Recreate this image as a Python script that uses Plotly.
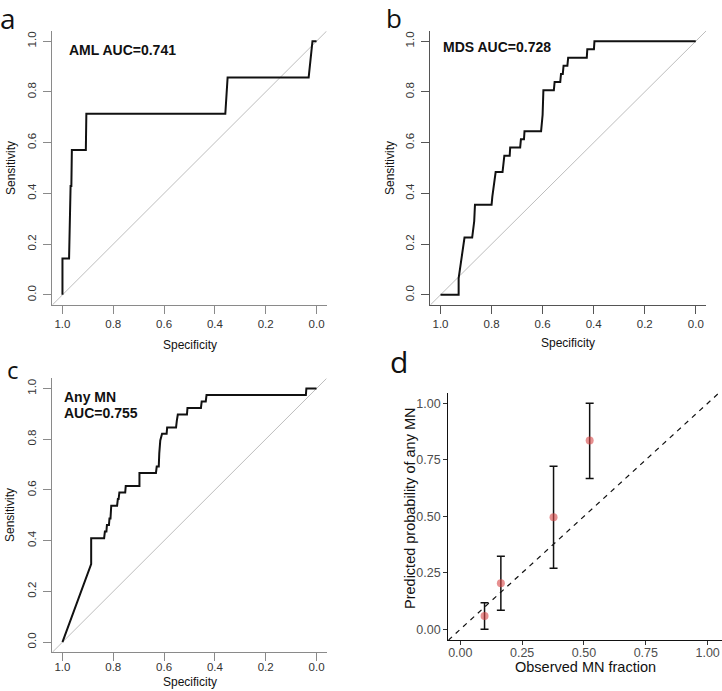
import plotly.graph_objects as go

W, H = 722, 691

# ---------------- data ----------------
# Panel a: AML ROC
aml_spec = [1.0, 1.0, 0.974, 0.972, 0.970, 0.968, 0.965, 0.963, 0.908, 0.906, 0.359, 0.350, 0.031, 0.016, 0.0]
aml_sens = [0.0, 0.143, 0.143, 0.286, 0.286, 0.429, 0.429, 0.571, 0.571, 0.714, 0.714, 0.857, 0.857, 1.0, 1.0]

# Panel b: MDS ROC
mds_spec = [1.0, 0.929, 0.929, 0.925, 0.921, 0.916, 0.910, 0.906, 0.876, 0.873, 0.868, 0.865,
            0.800, 0.797, 0.792, 0.788, 0.784, 0.757, 0.754, 0.750, 0.729, 0.727, 0.688, 0.685,
            0.673, 0.671, 0.606, 0.603, 0.600, 0.597, 0.556, 0.553, 0.531, 0.528, 0.521, 0.518,
            0.503, 0.500, 0.427, 0.425, 0.399, 0.397, 0.0]
mds_sens = [0.0, 0.0, 0.065, 0.097, 0.129, 0.161, 0.194, 0.226, 0.226, 0.258, 0.290, 0.355,
            0.355, 0.387, 0.419, 0.452, 0.484, 0.484, 0.516, 0.548, 0.548, 0.581, 0.581, 0.613,
            0.613, 0.645, 0.645, 0.677, 0.710, 0.806, 0.806, 0.839, 0.839, 0.871, 0.871, 0.903,
            0.903, 0.935, 0.935, 0.968, 0.968, 1.0, 1.0]

# Panel c: Any MN ROC
mn_spec = [1.0, 0.887, 0.887, 0.836, 0.833, 0.827, 0.825, 0.817, 0.815, 0.811, 0.808, 0.785,
           0.782, 0.779, 0.776, 0.753, 0.751, 0.697, 0.697, 0.632, 0.629, 0.621, 0.619, 0.615,
           0.608, 0.590, 0.588, 0.553, 0.550, 0.546, 0.510, 0.508, 0.455, 0.452, 0.436, 0.433,
           0.042, 0.040, 0.0]
mn_sens = [0.0, 0.308, 0.410, 0.410, 0.436, 0.436, 0.462, 0.462, 0.487, 0.487, 0.538, 0.538,
           0.564, 0.564, 0.590, 0.590, 0.615, 0.615, 0.667, 0.667, 0.692, 0.692, 0.744, 0.795,
           0.821, 0.821, 0.846, 0.846, 0.872, 0.897, 0.897, 0.923, 0.923, 0.949, 0.949, 0.974,
           0.974, 1.0, 1.0]

# Panel d: calibration
obs_frac = [0.098, 0.164, 0.377, 0.523]
pred_prob = [0.059, 0.204, 0.496, 0.835]
pred_upper = [0.118, 0.323, 0.721, 1.0]
pred_lower = [0.0, 0.084, 0.270, 0.667]

roc_ticks = [0.0, 0.2, 0.4, 0.6, 0.8, 1.0]
roc_ticktext = ["0.0", "0.2", "0.4", "0.6", "0.8", "1.0"]
cal_ticks = [0.0, 0.25, 0.5, 0.75, 1.0]
cal_ticktext = ["0.00", "0.25", "0.50", "0.75", "1.00"]

roc_lim = [-0.04, 1.04]
cal_xlim = [-0.0485, 1.058]
cal_ylim = [-0.0473, 1.0469]

# ---------------- helpers ----------------
def px_x(x):
    return x / W

def px_y(y):
    return 1 - y / H

ARIAL = "Liberation Sans, Arial, sans-serif"
PANEL_FONT = "Open Sans, Noto Sans, sans-serif"

fig = go.Figure()

def roc_axes(xname, yname, xdom, ydom, axcol, xstandoff=0):
    common = dict(showline=True, linecolor=axcol, linewidth=1, ticks="outside", ticklen=8,
                  tickcolor=axcol, tickwidth=1, tickvals=roc_ticks, ticktext=roc_ticktext,
                  showgrid=False, zeroline=False,
                  tickfont=dict(family=ARIAL, size=11.5, color="#333"))
    fig.layout[xname] = dict(common, range=[roc_lim[1], roc_lim[0]],
                             domain=[px_x(xdom[0]), px_x(xdom[1])],
                             ticklabelstandoff=xstandoff,
                             anchor=yname.replace("axis", ""))
    fig.layout[yname] = dict(common, range=roc_lim, tickangle=-90, ticklabelstandoff=3,
                             domain=[px_y(ydom[1]), px_y(ydom[0])],
                             anchor=xname.replace("axis", ""))

roc_axes("xaxis", "yaxis", (52.3, 326.7), (31, 305), "#8a8a8a")
roc_axes("xaxis2", "yaxis2", (430.3, 706), (31, 305), "#555")
roc_axes("xaxis3", "yaxis3", (52.3, 326.7), (378.3, 652.3), "#8a8a8a", xstandoff=-4)

fig.layout["xaxis4"] = dict(range=cal_xlim, domain=[px_x(448.3), 1.0], anchor="y4",
                            showline=True, linecolor="#111", linewidth=1.2, ticks="outside",
                            ticklen=4, tickcolor="#333", tickvals=cal_ticks, ticktext=cal_ticktext,
                            showgrid=False, zeroline=False, ticklabelstandoff=-3,
                            tickfont=dict(family=ARIAL, size=12.5, color="#4d4d4d"))
fig.layout["yaxis4"] = dict(range=cal_ylim, domain=[px_y(640), px_y(392.7)], anchor="x4",
                            showline=True, linecolor="#111", linewidth=1.2, ticks="outside",
                            ticklen=4, tickcolor="#333", tickvals=cal_ticks, ticktext=cal_ticktext,
                            showgrid=False, zeroline=False,
                            tickfont=dict(family=ARIAL, size=12.5, color="#4d4d4d"))

# ROC traces
for (xa, ya, spec, sens) in [("x", "y", aml_spec, aml_sens),
                             ("x2", "y2", mds_spec, mds_sens),
                             ("x3", "y3", mn_spec, mn_sens)]:
    fig.add_trace(go.Scatter(x=[roc_lim[1], roc_lim[0]], y=[roc_lim[0], roc_lim[1]],
                             mode="lines", line=dict(color="#bdbdbd", width=1),
                             xaxis=xa, yaxis=ya, showlegend=False, hoverinfo="skip"))
    fig.add_trace(go.Scatter(x=spec, y=sens, mode="lines",
                             line=dict(color="#111", width=2),
                             xaxis=xa, yaxis=ya, showlegend=False))

# Calibration
fig.add_trace(go.Scatter(x=[cal_xlim[0], cal_xlim[1]], y=[cal_xlim[0], cal_xlim[1]],
                         mode="lines", line=dict(color="#111", width=1.2, dash="5px,5px"),
                         xaxis="x4", yaxis="y4", showlegend=False, hoverinfo="skip"))
err_plus = [u - p for u, p in zip(pred_upper, pred_prob)]
err_minus = [p - l for p, l in zip(pred_prob, pred_lower)]
fig.add_trace(go.Scatter(x=obs_frac, y=pred_prob, mode="markers",
                         marker=dict(color="rgba(215,70,70,0.6)", size=8),
                         error_y=dict(type="data", symmetric=False, array=err_plus,
                                      arrayminus=err_minus, color="#111", thickness=1.5, width=4),
                         xaxis="x4", yaxis="y4", showlegend=False))

ann = []
def text(t, x, y, size, family=ARIAL, bold=False, angle=0, xanchor="center", color="#111"):
    ann.append(dict(text=("<b>%s</b>" % t) if bold else t, x=px_x(x), y=px_y(y),
                    xref="paper", yref="paper", showarrow=False, textangle=angle,
                    xanchor=xanchor, yanchor="middle",
                    font=dict(family=family, size=size, color=color)))

# panel labels
text("a", 8, 18, 28, family=PANEL_FONT)
text("b", 394, 18, 26, family=PANEL_FONT)
text("c", 13, 369, 24, family=PANEL_FONT)
text("d", 399, 362, 30, family=PANEL_FONT)

# AUC labels
text("AML AUC=0.741", 66.7, 50, 14, bold=True, xanchor="left")
text("MDS AUC=0.728", 441, 46.7, 14, bold=True, xanchor="left")
text("Any MN", 62.3, 396.7, 14, bold=True, xanchor="left")
text("AUC=0.755", 62.3, 413.3, 14, bold=True, xanchor="left")

# axis titles
text("Specificity", 189.5, 345, 12)
text("Specificity", 568, 343, 12)
text("Specificity", 189.5, 682, 12)
text("Sensitivity", 11, 168, 12, angle=-90)
text("Sensitivity", 390, 168, 12, angle=-90)
text("Sensitivity", 10, 515, 12, angle=-90)
text("Observed MN fraction", 585, 667, 14.5)
text("Predicted probability of any MN", 410, 508, 14.5, angle=-90)

fig.update_layout(width=W, height=H, margin=dict(l=0, r=0, t=0, b=0),
                  paper_bgcolor="white", plot_bgcolor="white", annotations=ann,
                  showlegend=False)

fig.write_html("out.html", config={"displayModeBar": False},
               post_script="document.body.style.margin='0';")
